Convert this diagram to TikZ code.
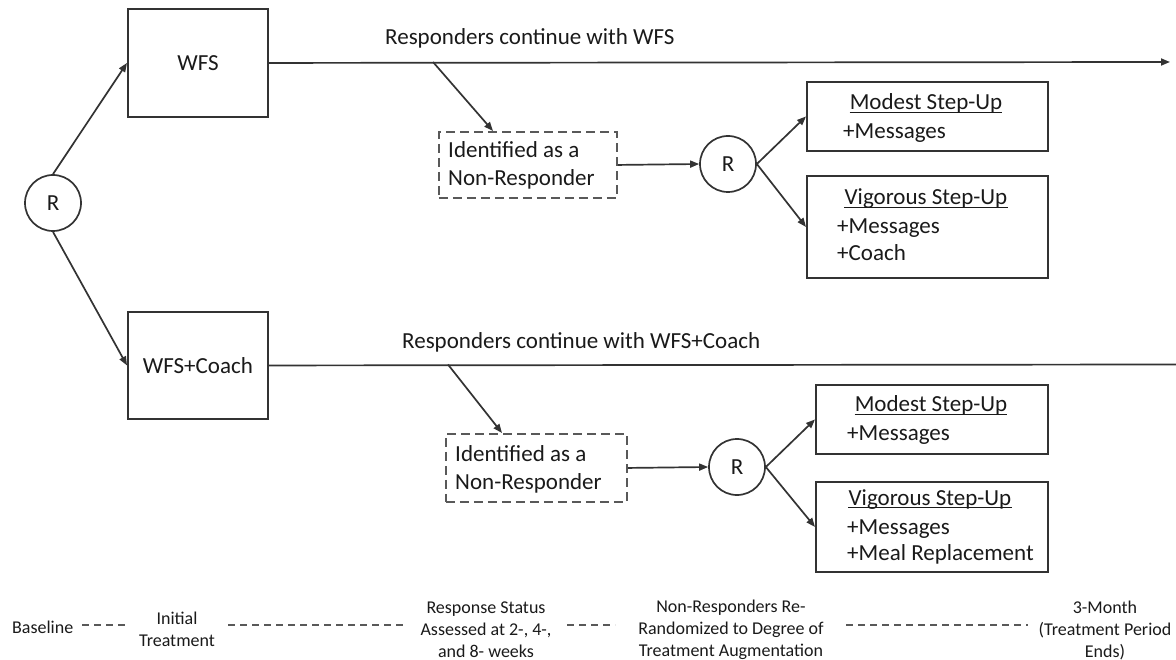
\documentclass[tikz,border=0pt]{standalone}
\usepackage{fontspec}
\setmainfont{Carlito}
\usetikzlibrary{arrows.meta,calc}
\definecolor{ink}{HTML}{1A1A1A}
\definecolor{edge}{HTML}{333333}
\definecolor{dashgray}{HTML}{595959}

\begin{document}
\begin{tikzpicture}[x=1pt,y=-1pt,
  every node/.style={inner sep=0pt,text=ink},
  big/.style={font=\fontsize{23pt}{28pt}\selectfont},
  tl/.style={font=\fontsize{18pt}{22pt}\selectfont,align=center},
  sbox/.style={draw=edge,line width=1.9pt,rectangle,anchor=north west},
  dbox/.style={draw=dashgray,line width=1.9pt,rectangle,anchor=north west,dash pattern=on 9pt off 5pt},
  rnode/.style={draw=edge,line width=1.7pt,circle,minimum size=56pt,font=\fontsize{23pt}{28pt}\selectfont},
  conn/.style={draw=edge,line width=1.7pt,-{Triangle[length=9pt,width=7pt]}},
  plain/.style={draw=edge,line width=1.7pt},
  uline/.style={draw=ink,line width=1.3pt},
  tdash/.style={draw=dashgray,line width=1.9pt,dash pattern=on 7pt off 5pt}
]
\useasboundingbox[fill=white] (0,0) rectangle (1176,660);

% first randomisation
\node[rnode] (r0) at (53,203) {R};
\node[sbox,minimum width=140pt,minimum height=108pt] (wfs) at (127,8) {};
\node[big] (wfsT) at (wfs.center) {WFS};
\node[sbox,minimum width=140pt,minimum height=107pt] (wfsc) at (127,311) {};
\node[big] (wfscT) at (wfsc.center) {WFS+Coach};
\draw[conn] (r0.north) -- (wfs.west);
\draw[conn] (r0.south) -- (wfsc.west);

% ---------- WFS arm ----------
\coordinate (endA) at (1170,62);
\draw[conn] (wfs.east) -- (endA);
\node[big,anchor=base west] (respA) at (385,45) {Responders continue with WFS};

\coordinate (forkA) at (433,62);
\node[dbox,minimum width=178pt,minimum height=66pt] (nr1) at (438,131) {};
\node[big,anchor=base west] (nr1a) at (448,158) {Identified as a};
\node[big,anchor=base west] (nr1b) at (448,186) {Non-Responder};
\draw[conn] (forkA) -- ([xshift=55pt]nr1.north west);

\node[rnode] (r1) at (728,164) {R};
\draw[conn] (nr1.east) -- (r1.west);

\node[sbox,minimum width=241pt,minimum height=69pt] (m1) at (806,81) {};
\node[sbox,minimum width=241pt,minimum height=102pt] (v1) at (806,175) {};
\draw[conn] (r1.east) -- (m1.west);
\draw[conn] (r1.east) -- (v1.west);

\node[big,anchor=base] (m1a) at (926,110) {Modest Step-Up};
\draw[uline] ([yshift=-2.5pt]m1a.base west) -- ([yshift=-2.5pt]m1a.base east);
\node[big,anchor=base west] (m1b) at (843,139) {+Messages};

\node[big,anchor=base] (v1a) at (926,205) {Vigorous Step-Up};
\draw[uline] ([yshift=-2.5pt]v1a.base west) -- ([yshift=-2.5pt]v1a.base east);
\node[big,anchor=base west] (v1b) at (837,234) {+Messages};
\node[big,anchor=base west] (v1c) at (837,261) {+Coach};

% ---------- WFS+Coach arm ----------
\coordinate (endB) at (1176,364.5);
\draw[plain] (wfsc.east) -- (endB);
\node[big,anchor=base west] (respB) at (402,349) {Responders continue with WFS+Coach};

\coordinate (forkB) at (448,364.5);
\node[dbox,minimum width=181pt,minimum height=68pt] (nr2) at (445,433) {};
\node[big,anchor=base west] (nr2a) at (455,461) {Identified as a};
\node[big,anchor=base west] (nr2b) at (455,489) {Non-Responder};
\draw[conn] (forkB) -- ([xshift=57pt]nr2.north west);

\node[rnode] (r2) at (737,467) {R};
\draw[conn] (nr2.east) -- (r2.west);

\node[sbox,minimum width=232pt,minimum height=69pt] (m2) at (815,384) {};
\node[sbox,minimum width=232pt,minimum height=90pt] (v2) at (815,481) {};
\draw[conn] (r2.east) -- (m2.west);
\draw[conn] (r2.east) -- (v2.west);

\node[big,anchor=base] (m2a) at (931,412) {Modest Step-Up};
\draw[uline] ([yshift=-2.5pt]m2a.base west) -- ([yshift=-2.5pt]m2a.base east);
\node[big,anchor=base west] (m2b) at (847,440) {+Messages};

\node[big,anchor=base] (v2a) at (930,505) {Vigorous Step-Up};
\draw[uline] ([yshift=-2.5pt]v2a.base west) -- ([yshift=-2.5pt]v2a.base east);
\node[big,anchor=base west] (v2b) at (847,534) {+Messages};
\node[big,anchor=base west] (v2c) at (847,560) {+Meal Replacement};

% ---------- timeline ----------
\node[tl,anchor=west] (tBase) at (12,627) {Baseline};
\node[tl] (tInit) at (177,629.5) {Initial\\Treatment};
\node[tl] (tResp) at (486,630) {Response Status\\Assessed at 2-, 4-,\\and 8- weeks};
\node[tl] (tRand) at (731,630) {Non-Responders Re-\\Randomized to Degree of\\Treatment Augmentation};
\node[tl] (tEnd) at (1105,630) {3-Month\\(Treatment Period\\Ends)};

\coordinate (d1a) at (82,625);  \coordinate (d1b) at (126,625);
\coordinate (d2a) at (228,625); \coordinate (d2b) at (404,625);
\coordinate (d3a) at (567,625); \coordinate (d3b) at (615,625);
\coordinate (d4a) at (846,625); \coordinate (d4b) at (1028,625);
\draw[tdash] (d1a) -- (d1b);
\draw[tdash] (d2a) -- (d2b);
\draw[tdash] (d3a) -- (d3b);
\draw[tdash] (d4a) -- (d4b);
\end{tikzpicture}
\end{document}
